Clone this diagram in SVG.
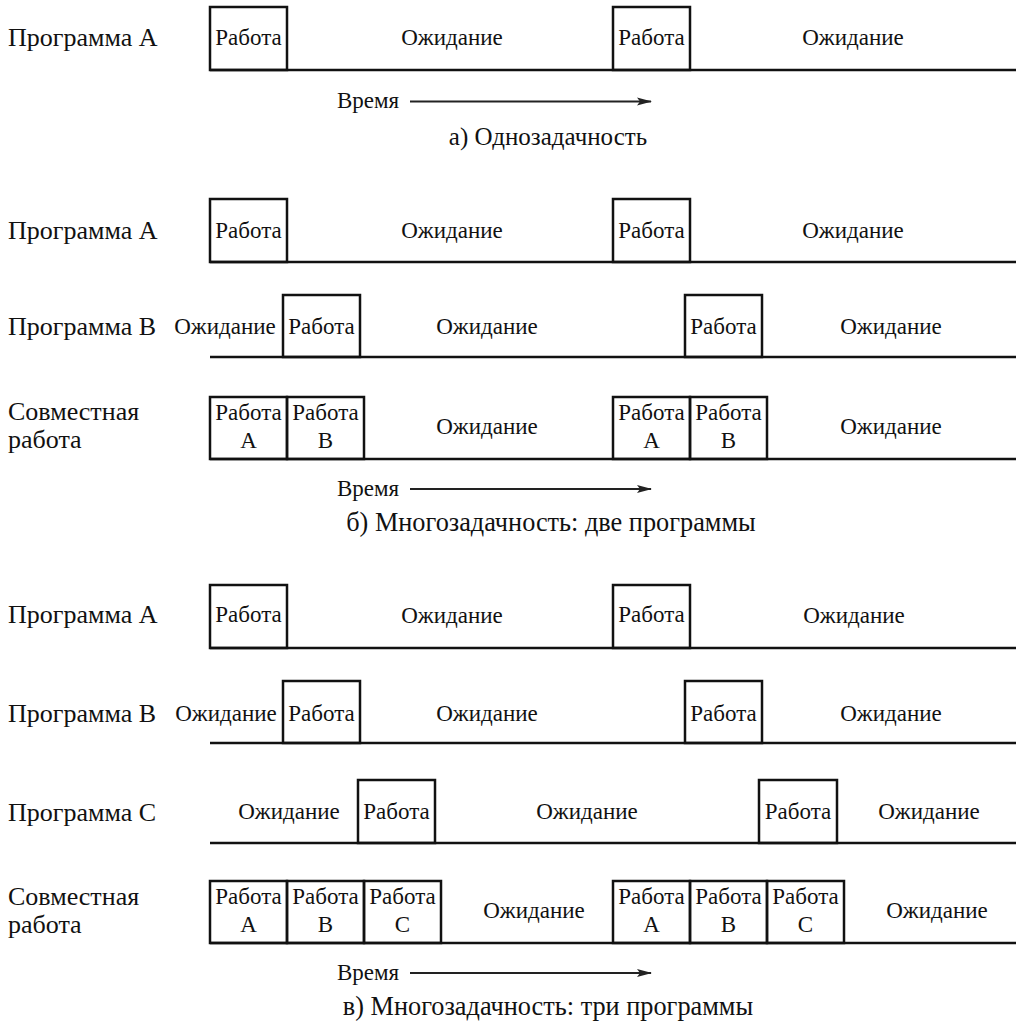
<svg xmlns="http://www.w3.org/2000/svg" width="1019" height="1032" viewBox="0 0 1019 1032">
<style>
text{font-family:'Liberation Serif','Times New Roman',serif;fill:#111}
.lbl{font-size:26px}
.t{font-size:23px;text-anchor:middle}
.tm{font-size:23px}
.cap{font-size:25px;text-anchor:middle}
.cap2{font-size:26.3px;text-anchor:middle}
.box{fill:none;stroke:#111;stroke-width:2.5}
.ln{stroke:#111;stroke-width:2.5;fill:none}
.arr{stroke:#222;stroke-width:2.2;fill:none;marker-end:url(#ah)}
</style>
<defs>
<marker id="ah" markerWidth="16" markerHeight="10" refX="14" refY="5" orient="auto" markerUnits="userSpaceOnUse">
<path d="M0,1 L15,5 L0,9 L3,5 z" fill="#222"/>
</marker>
</defs>
<rect width="1019" height="1032" fill="#fff"/>

<!-- Section a -->
<g id="a-rowA">
<text class="lbl" x="8" y="46">Программа А</text>
<rect class="box" x="210" y="7" width="77" height="63"/>
<text class="t" x="248.5" y="45">Работа</text>
<text class="t" x="452" y="45">Ожидание</text>
<rect class="box" x="613" y="7" width="77" height="63"/>
<text class="t" x="651.5" y="45">Работа</text>
<text class="t" x="853" y="45">Ожидание</text>
</g>
<g id="a-time">
<text class="tm" x="337" y="108">Время</text>
<text class="cap" x="548" y="145">а) Однозадачность</text>
</g>

<!-- Section b -->
<g id="b-rowA">
<text class="lbl" x="8" y="239">Программа А</text>
<rect class="box" x="210" y="199" width="77" height="63"/>
<text class="t" x="248.5" y="238">Работа</text>
<text class="t" x="452" y="238">Ожидание</text>
<rect class="box" x="613" y="199" width="77" height="63"/>
<text class="t" x="651.5" y="238">Работа</text>
<text class="t" x="853" y="238">Ожидание</text>
</g>
<g id="b-rowB">
<text class="lbl" x="8" y="335">Программа В</text>
<text class="t" x="225" y="334">Ожидание</text>
<rect class="box" x="283" y="295" width="77" height="62"/>
<text class="t" x="321.5" y="334">Работа</text>
<text class="t" x="487" y="334">Ожидание</text>
<rect class="box" x="685" y="295" width="77" height="62"/>
<text class="t" x="723.5" y="334">Работа</text>
<text class="t" x="891" y="334">Ожидание</text>
</g>
<g id="b-joint">
<text class="lbl" x="8" y="420">Совместная</text>
<text class="lbl" x="8" y="448">работа</text>
<rect class="box" x="210" y="397" width="77" height="62"/>
<rect class="box" x="287" y="397" width="77" height="62"/>
<text class="t" x="248.5" y="420">Работа</text><text class="t" x="248.5" y="448">А</text>
<text class="t" x="325.5" y="420">Работа</text><text class="t" x="325.5" y="448">В</text>
<text class="t" x="487" y="434">Ожидание</text>
<rect class="box" x="613" y="397" width="77" height="62"/>
<rect class="box" x="690" y="397" width="77" height="62"/>
<text class="t" x="651.5" y="420">Работа</text><text class="t" x="651.5" y="448">А</text>
<text class="t" x="728.5" y="420">Работа</text><text class="t" x="728.5" y="448">В</text>
<text class="t" x="891" y="434">Ожидание</text>
</g>
<g id="b-time">
<text class="tm" x="337" y="496">Время</text>
<text class="cap2" x="551" y="531">б) Многозадачность: две программы</text>
</g>

<!-- Section c -->
<g id="c-rowA">
<text class="lbl" x="8" y="623">Программа А</text>
<rect class="box" x="210" y="585" width="77" height="63"/>
<text class="t" x="248.5" y="622">Работа</text>
<text class="t" x="452" y="623">Ожидание</text>
<rect class="box" x="613" y="585" width="77" height="63"/>
<text class="t" x="651.5" y="622">Работа</text>
<text class="t" x="854" y="623">Ожидание</text>
</g>
<g id="c-rowB">
<text class="lbl" x="8" y="722">Программа В</text>
<text class="t" x="226" y="721">Ожидание</text>
<rect class="box" x="283" y="681" width="77" height="62"/>
<text class="t" x="321.5" y="721">Работа</text>
<text class="t" x="487" y="721">Ожидание</text>
<rect class="box" x="685" y="681" width="77" height="62"/>
<text class="t" x="723.5" y="721">Работа</text>
<text class="t" x="891" y="721">Ожидание</text>
</g>
<g id="c-rowC">
<text class="lbl" x="8" y="821">Программа С</text>
<text class="t" x="289" y="819">Ожидание</text>
<rect class="box" x="358" y="780" width="77" height="63"/>
<text class="t" x="396.5" y="819">Работа</text>
<text class="t" x="587" y="819">Ожидание</text>
<rect class="box" x="759" y="780" width="78" height="63"/>
<text class="t" x="798" y="819">Работа</text>
<text class="t" x="929" y="819">Ожидание</text>
</g>
<g id="c-joint">
<text class="lbl" x="8" y="905">Совместная</text>
<text class="lbl" x="8" y="933">работа</text>
<rect class="box" x="210" y="881" width="77" height="62"/>
<rect class="box" x="287" y="881" width="77" height="62"/>
<rect class="box" x="364" y="881" width="77" height="62"/>
<text class="t" x="248.5" y="904">Работа</text><text class="t" x="248.5" y="932">А</text>
<text class="t" x="325.5" y="904">Работа</text><text class="t" x="325.5" y="932">В</text>
<text class="t" x="402.5" y="904">Работа</text><text class="t" x="402.5" y="932">С</text>
<text class="t" x="534" y="918">Ожидание</text>
<rect class="box" x="613" y="881" width="77" height="62"/>
<rect class="box" x="690" y="881" width="77" height="62"/>
<rect class="box" x="767" y="881" width="77" height="62"/>
<text class="t" x="651.5" y="904">Работа</text><text class="t" x="651.5" y="932">А</text>
<text class="t" x="728.5" y="904">Работа</text><text class="t" x="728.5" y="932">В</text>
<text class="t" x="805.5" y="904">Работа</text><text class="t" x="805.5" y="932">С</text>
<text class="t" x="937" y="918">Ожидание</text>
</g>
<g id="c-time">
<text class="tm" x="337" y="980">Время</text>
<text class="cap2" x="548" y="1015">в) Многозадачность: три программы</text>
</g>

<g id="connectors">
<line class="ln" x1="210" y1="70" x2="1016" y2="70"/>
<line class="ln" x1="210" y1="262" x2="1016" y2="262"/>
<line class="ln" x1="210" y1="357" x2="1016" y2="357"/>
<line class="ln" x1="210" y1="459" x2="1016" y2="459"/>
<line class="ln" x1="210" y1="648" x2="1016" y2="648"/>
<line class="ln" x1="210" y1="743" x2="1016" y2="743"/>
<line class="ln" x1="210" y1="843" x2="1016" y2="843"/>
<line class="ln" x1="210" y1="943" x2="1016" y2="943"/>
<line class="arr" x1="410" y1="101.5" x2="651" y2="101.5"/>
<line class="arr" x1="410" y1="489" x2="651" y2="489"/>
<line class="arr" x1="410" y1="973" x2="651" y2="973"/>
</g>
</svg>
